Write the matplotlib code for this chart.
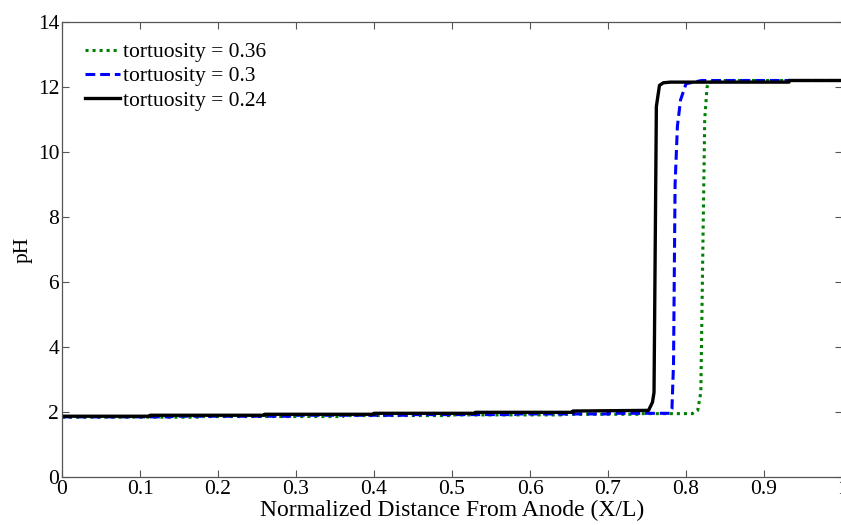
import matplotlib
matplotlib.use("Agg")
import matplotlib.pyplot as plt

plt.rcParams["font.family"] = ["Liberation Serif", "DejaVu Serif"]

# pH profiles along the specimen for three tortuosity values
x_024 = [0, 0.113, 0.113, 0.26, 0.26, 0.40, 0.40, 0.53, 0.53, 0.655, 0.655,
         0.752, 0.757, 0.759, 0.762, 0.766, 0.771, 0.78, 0.932, 0.932, 1.0]
ph_024 = [1.87, 1.87, 1.90, 1.90, 1.93, 1.93, 1.96, 1.96, 1.99, 1.99, 2.03,
          2.05, 2.3, 2.6, 11.4, 12.05, 12.13, 12.15, 12.15, 12.2, 12.2]

x_030 = [0, 0.14, 0.14, 0.30, 0.30, 0.45, 0.45, 0.58, 0.58, 0.70, 0.70,
         0.779, 0.782, 0.784, 0.786, 0.789, 0.793, 0.80, 0.82, 1.0]
ph_030 = [1.85, 1.85, 1.87, 1.87, 1.90, 1.90, 1.92, 1.92, 1.94, 1.94, 1.96,
          1.96, 2.1, 3.5, 9.0, 10.8, 11.6, 12.1, 12.2, 12.2]

x_036 = [0, 0.18, 0.18, 0.36, 0.36, 0.50, 0.50, 0.64, 0.64, 0.74, 0.74,
         0.808, 0.815, 0.819, 0.821, 0.824, 0.827, 0.83, 0.85, 1.0]
ph_036 = [1.84, 1.84, 1.86, 1.86, 1.89, 1.89, 1.91, 1.91, 1.93, 1.93, 1.95,
          1.95, 2.05, 2.6, 6.0, 11.0, 12.0, 12.15, 12.2, 12.2]

x_ticks = [0, 0.1, 0.2, 0.3, 0.4, 0.5, 0.6, 0.7, 0.8, 0.9, 1]
x_tick_labels = ["0", "0.1", "0.2", "0.3", "0.4", "0.5", "0.6", "0.7", "0.8", "0.9", "1"]
y_ticks = [0, 2, 4, 6, 8, 10, 12, 14]

fig = plt.figure(figsize=(8.41, 5.25), dpi=100)
ax = fig.add_axes([62 / 841, 48 / 525, 780 / 841, 455 / 525])

ax.plot(x_036, ph_036, color="#008000", linestyle=(0, (1, 1.3)), linewidth=2.2,
        label="tortuosity = 0.36")
ax.plot(x_030, ph_030, color="#0000ff", linestyle=(0, (3.2, 1.6)), linewidth=2.2,
        label="tortuosity = 0.3")
ax.plot(x_024, ph_024, color="black", linestyle="-", linewidth=2.4,
        label="tortuosity = 0.24")

ax.set_xlim(0, 1)
ax.set_ylim(0, 14)
ax.set_xticks(x_ticks)
ax.set_xticklabels(x_tick_labels)
ax.set_yticks(y_ticks)
ax.tick_params(direction="in", length=5, width=0.8, top=True, right=True,
               labelsize=15.5, pad=2, color="#555555")
for spine in ax.spines.values():
    spine.set_color("#555555")
    spine.set_linewidth(0.9)

ax.set_xlabel("Normalized Distance From Anode (X/L)", fontsize=17, labelpad=1)
ax.set_ylabel("pH", fontsize=15.5, labelpad=4)

ax.legend(loc="upper left", frameon=False, fontsize=15.5, handlelength=1.65,
          handletextpad=0.15, labelspacing=0.2, borderaxespad=0.0,
          bbox_to_anchor=(0.018, 0.975))

fig.savefig("out.png", dpi=100)
